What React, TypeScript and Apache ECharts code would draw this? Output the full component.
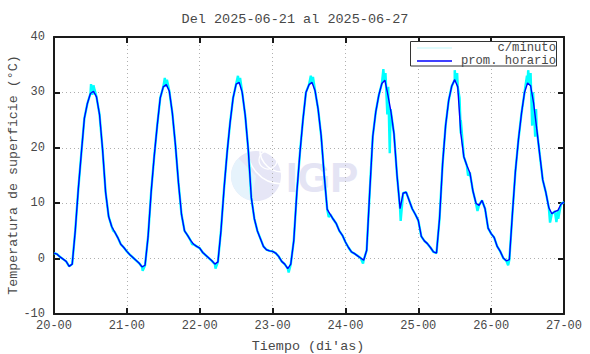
import React, { useEffect, useRef } from "react";
import * as echarts from "echarts";

const titleText = "Del 2025-06-21 al 2025-06-27";
const yAxisTitle = "Temperatura de superficie (°C)";
const xAxisTitle = "Tiempo (di'as)";
const legendNames = ["c/minuto", "prom. horario"];
const startDay = 20;
const hoursSpan = 168;

// hourly average (hour 0 = 20-00)
const promHorario = [
  1.0, 0.8, 0.3, -0.1, -0.5, -1.4, -1.0, 5.0, 12.5, 19.0, 25.3, 28.0, 29.8, 30.2, 29.2, 26.0, 19.7, 12.0, 7.6, 5.8, 4.8, 3.8, 2.6, 2.0,
  1.3, 0.7, 0.2, -0.3, -0.8, -1.5, -1.2, 4.0, 12.0, 18.4, 24.0, 29.0, 31.0, 31.4, 30.2, 26.2, 20.5, 13.7, 8.0, 5.0, 4.2, 3.3, 2.6, 2.2,
  1.9, 1.1, 0.6, 0.1, -0.4, -1.0, -0.6, 5.0, 12.5, 19.0, 24.5, 29.0, 31.5, 31.8, 30.0, 25.8, 19.6, 11.0, 7.2, 5.0, 3.6, 2.2, 1.6, 1.4,
  1.3, 1.0, 0.4, -0.5, -1.0, -1.8, -1.0, 3.3, 12.0, 19.0, 25.0, 30.0, 31.4, 31.8, 30.3, 27.0, 22.2, 15.1, 8.9, 8.0, 7.1, 6.3, 5.0, 4.2,
  3.0, 2.0, 1.2, 0.9, 0.5, 0.1, -0.3, 1.5, 12.0, 22.0, 26.5, 29.5, 31.6, 32.2, 29.5, 26.5, 22.5, 15.0, 9.0, 11.8, 12.0, 10.5, 9.0, 8.0,
  6.9, 4.0, 3.2, 2.7, 2.0, 1.2, 1.0, 7.2, 17.0, 24.0, 28.5, 31.1, 32.3, 31.0, 22.6, 18.4, 16.8, 15.5, 12.2, 10.0, 9.6, 10.5, 9.0, 5.5,
  4.5, 3.8, 2.2, 1.3, 0.1, -0.4, -0.2, 8.0, 15.8, 21.5, 26.2, 30.0, 31.7, 31.2, 28.0, 23.5, 18.8, 14.2, 12.0, 9.2, 8.1, 8.5, 8.7, 9.8,
  10.2,
];

// extra per-minute excursions: [hour, °C]
const minutoExtra: [number, number][] = [
  [12.2, 31.5], [12.6, 29.6], [13.0, 31.3], [13.4, 30.4], [19.5, 5.0], [29.2, -2.2],
  [36.5, 32.6], [36.8, 31.0], [37.2, 32.3], [53.2, -1.8], [45.5, 2.6],
  [60.6, 33.0], [60.9, 31.5], [61.3, 32.6], [77.3, -2.5], [90.5, 7.5],
  [84.6, 33.0], [85.0, 31.5], [85.3, 32.8], [101.8, -0.9],
  [108.5, 34.2], [108.8, 32.0], [109.2, 33.5], [109.8, 26.0], [110.1, 31.0], [110.6, 19.0], [110.9, 27.0], [114.2, 6.8],
  [132.0, 34.0], [132.4, 32.0], [132.8, 33.5], [133.6, 29.0], [134.0, 25.0], [136.4, 15.0], [139.5, 8.6],
  [149.6, -1.2], [155.8, 33.0], [156.2, 34.0], [156.6, 32.0], [157.0, 33.5], [157.5, 24.0], [157.8, 30.0], [158.5, 22.0], [158.8, 27.0],
  [163.4, 6.5], [165.5, 6.6], [166.1, 7.2],
];

const yMin = -10;
const yMax = 40;
const yStep = 10;
const xStep = 24;

const FONT = "Liberation Mono";
const TXT = "#484848";
const AX = "#1a1a1a";

export default function App() {
  const ref = useRef<HTMLDivElement>(null);
  useEffect(() => {
    document.body.style.margin = "0";
    if (!ref.current) return;
    const chart = echarts.init(ref.current, null, { renderer: "svg" });
    const hourly = promHorario.map((v, i) => [i, v]);
    const minuto = [...hourly, ...minutoExtra].sort((a, b) => a[0] - b[0]);
    const axisCommon = {
      type: "value" as const,
      axisLine: { show: true, onZero: false, lineStyle: { color: AX, width: 2 } },
      axisTick: { show: true, inside: true, length: 6, lineStyle: { color: AX, width: 2 } },
    };
    chart.setOption({
      animation: false,
      backgroundColor: "#ffffff",
      grid: { left: 54, right: 26, top: 37, bottom: 40 },
      xAxis: [
        {
          ...axisCommon,
          position: "bottom",
          min: 0,
          max: hoursSpan,
          interval: xStep,
          axisLabel: {
            color: TXT,
            fontFamily: FONT,
            fontSize: 12,
            margin: 6,
            formatter: (v: number) => `${startDay + v / 24}-00`,
          },
          splitLine: { show: true, lineStyle: { color: "#b0b0b0", type: [1, 3], width: 1 } },
        },
        {
          ...axisCommon,
          position: "top",
          min: 0,
          max: hoursSpan,
          interval: xStep,
          axisLabel: { show: false },
          splitLine: { show: false },
        },
      ],
      yAxis: [
        {
          ...axisCommon,
          position: "left",
          min: yMin,
          max: yMax,
          interval: yStep,
          axisLabel: { color: TXT, fontFamily: FONT, fontSize: 12, margin: 9 },
          splitLine: { show: true, lineStyle: { color: "#b0b0b0", type: [1, 3], width: 1 } },
        },
        {
          ...axisCommon,
          position: "right",
          min: yMin,
          max: yMax,
          interval: yStep,
          axisLabel: { show: false },
          splitLine: { show: false },
        },
      ],
      graphic: [
        // watermark
        { type: "circle", z: -10, shape: { cx: 256, cy: 176, r: 25 }, style: { fill: "#e6e6f6" } },
        { type: "sector", z: -9, shape: { cx: 256, cy: 176, r: 25, r0: 0, startAngle: Math.PI * 0.55, endAngle: Math.PI * 1.25 }, style: { fill: "#e6f3fc" } },
        { type: "arc", z: -8, shape: { cx: 282, cy: 150, r: 34, startAngle: Math.PI * 0.5, endAngle: Math.PI * 1.05 }, style: { stroke: "#ffffff", lineWidth: 1.5, fill: "none" } },
        { type: "arc", z: -8, shape: { cx: 282, cy: 150, r: 22, startAngle: Math.PI * 0.5, endAngle: Math.PI * 1.1 }, style: { stroke: "#ffffff", lineWidth: 1.5, fill: "none" } },
        { type: "arc", z: -8, shape: { cx: 268, cy: 160, r: 9, startAngle: 0, endAngle: Math.PI * 2 }, style: { stroke: "#ffffff", lineWidth: 1.2, fill: "none" } },
        {
          type: "text",
          z: -8,
          x: 286,
          y: 177,
          style: { text: "IGP", fill: "#e4e4f4", font: "bold 42px 'Liberation Sans', Arial, sans-serif", textVerticalAlign: "middle", textAlign: "left" },
        },
        // title and axis names
        {
          type: "text",
          x: 295,
          y: 19,
          style: { text: titleText, fill: TXT, font: `13.5px '${FONT}'`, textAlign: "center", textVerticalAlign: "middle" },
        },
        {
          type: "text",
          x: 308,
          y: 346,
          style: { text: xAxisTitle, fill: TXT, font: `13.4px '${FONT}'`, textAlign: "center", textVerticalAlign: "middle" },
        },
        {
          type: "text",
          x: 13,
          y: 175,
          rotation: Math.PI / 2,
          style: { text: yAxisTitle, fill: TXT, font: `13.3px '${FONT}'`, textAlign: "center", textVerticalAlign: "middle" },
        },
        // legend
        { type: "rect", z: 50, shape: { x: 410.5, y: 41.5, width: 146, height: 24.5 }, style: { fill: "#ffffff", stroke: "#333333", lineWidth: 1 } },
        { type: "line", z: 51, shape: { x1: 417, y1: 48, x2: 452, y2: 48 }, style: { stroke: "#bff8fb", lineWidth: 1.2 } },
        { type: "line", z: 51, shape: { x1: 417, y1: 61, x2: 452, y2: 61 }, style: { stroke: "#0000ff", lineWidth: 1.5 } },
        {
          type: "text",
          z: 51,
          x: 556,
          y: 48,
          style: { text: legendNames[0], fill: TXT, font: `12.2px '${FONT}'`, textAlign: "right", textVerticalAlign: "middle" },
        },
        {
          type: "text",
          z: 51,
          x: 556,
          y: 61,
          style: { text: legendNames[1], fill: TXT, font: `12.2px '${FONT}'`, textAlign: "right", textVerticalAlign: "middle" },
        },
      ],
      series: [
        {
          name: legendNames[0],
          type: "line",
          data: minuto,
          showSymbol: false,
          lineStyle: { color: "#00ffff", width: 2.4 },
          z: 3,
        },
        {
          name: legendNames[1],
          type: "line",
          data: hourly,
          showSymbol: false,
          lineStyle: { color: "#0000ff", width: 1.4 },
          z: 4,
        },
      ],
    });
    return () => chart.dispose();
  }, []);
  return <div ref={ref} style={{ width: 590, height: 354 }} />;
}
